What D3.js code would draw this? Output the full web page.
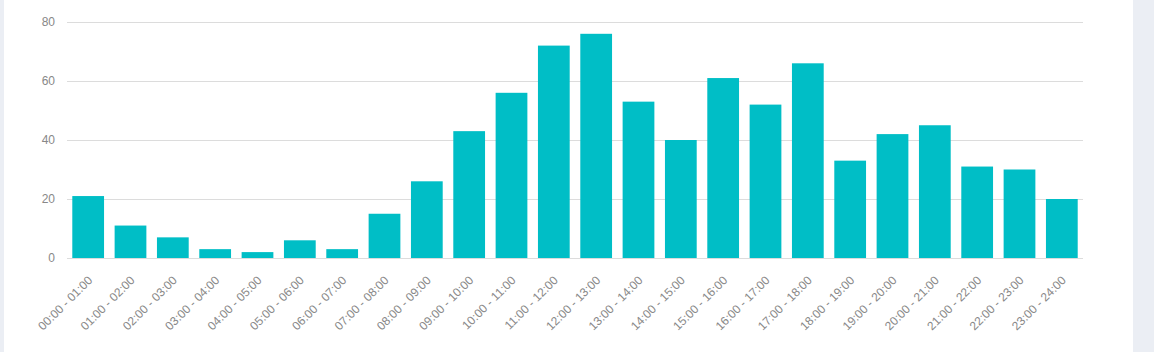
<!DOCTYPE html>
<html>
<head>
<meta charset="utf-8">
<script src="https://cdn.jsdelivr.net/npm/d3@7"></script>
<style>
  html, body { margin: 0; padding: 0; background: #ebeef4; }
  svg { display: block; font-family: "Liberation Sans", Arial, sans-serif; }
</style>
</head>
<body>
<svg></svg>
<script>
var hours = ["00:00 - 01:00", "01:00 - 02:00", "02:00 - 03:00", "03:00 - 04:00",
  "04:00 - 05:00", "05:00 - 06:00", "06:00 - 07:00", "07:00 - 08:00",
  "08:00 - 09:00", "09:00 - 10:00", "10:00 - 11:00", "11:00 - 12:00",
  "12:00 - 13:00", "13:00 - 14:00", "14:00 - 15:00", "15:00 - 16:00",
  "16:00 - 17:00", "17:00 - 18:00", "18:00 - 19:00", "19:00 - 20:00",
  "20:00 - 21:00", "21:00 - 22:00", "22:00 - 23:00", "23:00 - 24:00"];
var counts = [21, 11, 7, 3, 2, 6, 3, 15, 26, 43, 56, 72, 76, 53, 40, 61, 52, 66, 33, 42, 45, 31, 30, 20];
var yTicks = [0, 20, 40, 60, 80];

var svgWidth = 1154, svgHeight = 352;
var plotLeft = 67, plotRight = 1083, plotTop = 22, plotBottom = 258;

var svg = d3.select('svg')
    .attr("width", svgWidth)
    .attr("height", svgHeight);

// white card
svg.append("rect")
    .attr("x", 4).attr("y", 0)
    .attr("width", 1129).attr("height", svgHeight)
    .attr("fill", "#ffffff");

var x = d3.scaleBand()
    .domain(hours)
    .range([plotLeft, plotRight])
    .paddingInner(0.25)
    .paddingOuter(0.125);

var y = d3.scaleLinear()
    .domain([0, 80])
    .range([plotBottom, plotTop]);

// grid + y labels
var yAxis = svg.append("g")
    .attr("transform", "translate(" + plotLeft + ",0)")
    .call(d3.axisLeft(y).tickValues(yTicks).tickSize(-(plotRight - plotLeft)).tickPadding(12));
yAxis.select(".domain").remove();
yAxis.selectAll(".tick line").attr("stroke", "#dcdcdc");
yAxis.selectAll(".tick text")
    .attr("fill", "#888")
    .style("font-size", "12px");

svg.selectAll("rect.bar")
    .data(counts)
    .enter()
    .append("rect")
    .attr("class", "bar")
    .attr("x", (d, i) => x(hours[i]))
    .attr("y", d => y(d))
    .attr("width", x.bandwidth())
    .attr("height", d => y(0) - y(d))
    .attr("fill", "#00bec6");

// x labels
var xAxis = svg.append("g")
    .attr("transform", "translate(0," + plotBottom + ")")
    .call(d3.axisBottom(x).tickSize(0).tickPadding(0));
xAxis.select(".domain").remove();
xAxis.selectAll(".tick text")
    .attr("fill", "#888")
    .style("font-size", "12px")
    .attr("text-anchor", "end")
    .attr("y", 0)
    .attr("dy", "0.35em")
    .attr("transform", "translate(2,20) rotate(-45)");
</script>
</body>
</html>
